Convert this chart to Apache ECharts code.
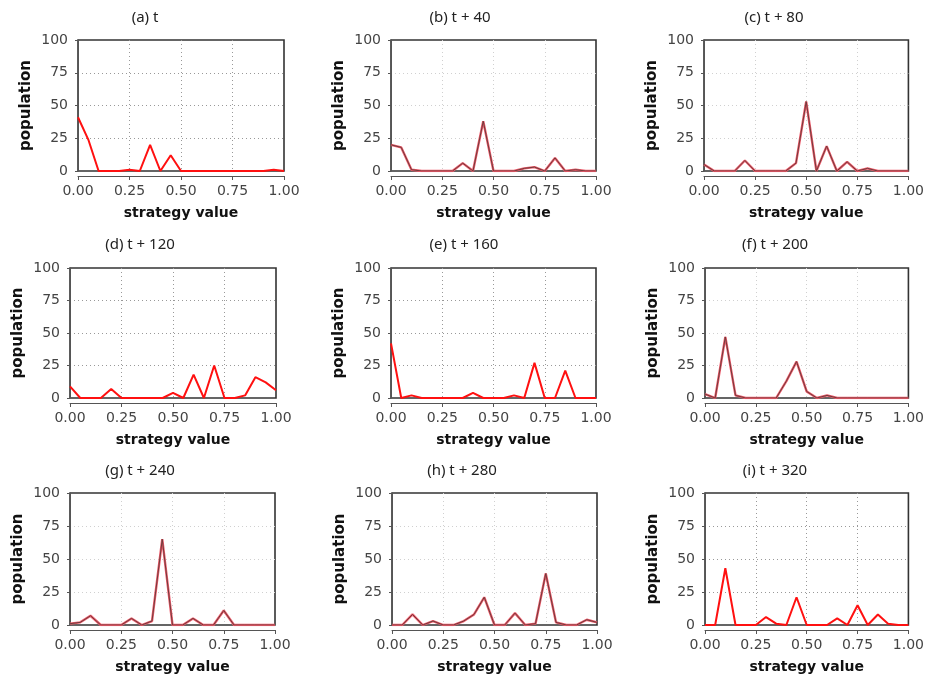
<!DOCTYPE html>
<html>
<head>
<meta charset="utf-8">
<script src="https://cdn.jsdelivr.net/npm/echarts@6/dist/echarts.min.js"></script>
<style>
  html, body { margin: 0; padding: 0; background: #fff; }
  #chart { width: 927px; height: 680px; }
</style>
</head>
<body>
<div id="chart"></div>
<script>
// strategy values on the x axis
const strategy = [0, 0.05, 0.1, 0.15, 0.2, 0.25, 0.3, 0.35, 0.4, 0.45, 0.5,
  0.55, 0.6, 0.65, 0.7, 0.75, 0.8, 0.85, 0.9, 0.95, 1];

// population per strategy value, one array per snapshot
const popA = [41, 24, 0, 0, 0, 1, 0, 20, 0, 12, 0, 0, 0, 0, 0, 0, 0, 0, 0, 1, 0];
const popB = [20, 18, 1, 0, 0, 0, 0, 6, 0, 38, 0, 0, 0, 2, 3, 0, 10, 0, 1, 0, 0];
const popC = [5, 0, 0, 0, 8, 0, 0, 0, 0, 6, 53, 0, 19, 0, 7, 0, 2, 0, 0, 0, 0];
const popD = [9, 0, 0, 0, 7, 0, 0, 0, 0, 0, 4, 0, 18, 0, 25, 0, 0, 2, 16, 12, 6];
const popE = [42, 0, 2, 0, 0, 0, 0, 0, 4, 0, 0, 0, 2, 0, 27, 0, 0, 21, 0, 0, 0];
const popF = [3, 0, 47, 2, 0, 0, 0, 0, 13, 28, 5, 0, 2, 0, 0, 0, 0, 0, 0, 0, 0];
const popG = [1, 2, 7, 0, 0, 0, 5, 0, 3, 65, 0, 0, 5, 0, 0, 11, 0, 0, 0, 0, 0];
const popH = [0, 0, 8, 0, 3, 0, 0, 3, 8, 21, 0, 0, 9, 0, 1, 39, 2, 0, 0, 4, 2];
const popI = [0, 0, 43, 0, 0, 0, 6, 1, 0, 21, 0, 0, 0, 5, 0, 15, 0, 8, 1, 0, 0];

const panelTitles = ["(a) t", "(b) t + 40", "(c) t + 80", "(d) t + 120", "(e) t + 160",
  "(f) t + 200", "(g) t + 240", "(h) t + 280", "(i) t + 320"];
const panelData = [popA, popB, popC, popD, popE, popF, popG, popH, popI];

// which panels are drawn with the darker, doubled line
const darkLine = [false, true, true, false, false, true, true, true, false];

// plot frames, pixels
const boxes = [
  { left: 78, top: 40, width: 206, height: 131, tx: 145, ty: 18 },
  { left: 391, top: 40, width: 205, height: 131, tx: 460, ty: 18 },
  { left: 704, top: 40, width: 206, height: 131, tx: 774, ty: 18 },
  { left: 70, top: 268, width: 206, height: 130, tx: 140, ty: 245 },
  { left: 391, top: 268, width: 205, height: 130, tx: 464, ty: 245 },
  { left: 705, top: 268, width: 205, height: 130, tx: 775, ty: 245 },
  { left: 70, top: 493, width: 205, height: 132, tx: 140, ty: 471 },
  { left: 392, top: 493, width: 205, height: 132, tx: 462, ty: 471 },
  { left: 705, top: 493, width: 205, height: 132, tx: 775, ty: 471 },
];

const tickFont = { fontFamily: "DejaVu Sans", fontSize: 14, color: "#444" };
const nameFont = { fontFamily: "DejaVu Sans", fontWeight: "bold", color: "#111" };

let grid = [], xAxis = [], yAxis = [], series = [], graphic = [];

boxes.forEach((b, i) => {
  const gridColor = darkLine[i] ? "#d0d0d0" : "#999";
  const split = {
    show: true, showMinLine: false, showMaxLine: false,
    lineStyle: { color: gridColor, type: [1, 3], width: 1 },
  };
  grid.push({
    left: b.left, top: b.top, width: b.width, height: b.height,
    show: true, borderColor: "#333", borderWidth: 1.6, backgroundColor: "transparent",
  });
  xAxis.push({
    type: "value", gridIndex: i, min: 0, max: 1, interval: 0.25,
    offset: 5,
    name: "strategy value", nameLocation: "middle", nameGap: 30,
    nameTextStyle: Object.assign({ fontSize: 14 }, nameFont),
    axisLine: { show: true, onZero: false, lineStyle: { color: "#555", width: 1 } },
    axisTick: { show: true, length: 4, lineStyle: { color: "#555" } },
    axisLabel: Object.assign({ margin: 8, formatter: (v) => v.toFixed(2) }, tickFont),
    splitLine: split,
  });
  yAxis.push({
    type: "value", gridIndex: i, min: 0, max: 100, interval: 25,
    offset: 5,
    name: "population", nameLocation: "middle", nameGap: 39,
    nameTextStyle: Object.assign({ fontSize: 15 }, nameFont),
    axisLine: { show: true, lineStyle: { color: "#555", width: 1 } },
    axisTick: { show: true, length: 3, lineStyle: { color: "#555" } },
    axisLabel: Object.assign({ margin: 5 }, tickFont),
    splitLine: split,
  });

  const points = strategy.map((s, k) => [s, panelData[i][k]]);
  if (darkLine[i]) {
    series.push({
      type: "line", xAxisIndex: i, yAxisIndex: i, data: points,
      symbol: "none", silent: true, z: 3,
      lineStyle: { color: "#ee5a6a", width: 2.4 },
    });
    series.push({
      type: "line", xAxisIndex: i, yAxisIndex: i, data: points,
      symbol: "none", silent: true, z: 4,
      lineStyle: { color: "#6e3c3c", width: 1 },
    });
  } else {
    series.push({
      type: "line", xAxisIndex: i, yAxisIndex: i, data: points,
      symbol: "none", silent: true, z: 3,
      lineStyle: { color: "#ff1010", width: 2 },
    });
  }

  graphic.push({
    type: "text", x: b.tx, y: b.ty,
    style: {
      text: panelTitles[i], fill: "#222",
      font: "15px 'Noto Sans'",
      align: "center", verticalAlign: "middle",
      textAlign: "center", textVerticalAlign: "middle",
    },
  });
});

const chart = echarts.init(document.getElementById("chart"), null, { renderer: "canvas" });
chart.setOption({
  animation: false,
  backgroundColor: "#fff",
  grid: grid,
  xAxis: xAxis,
  yAxis: yAxis,
  series: series,
  graphic: graphic,
});
</script>
</body>
</html>
